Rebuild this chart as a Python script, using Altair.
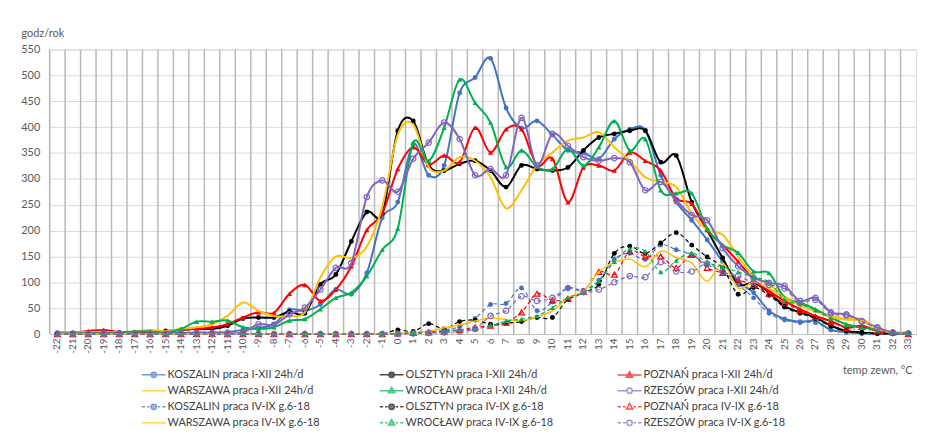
import altair as alt
import pandas as pd

temps = list(range(-22, 34))

series_names = [
    "KOSZALIN praca I-XII 24h/d", "OLSZTYN praca I-XII 24h/d", "POZNAŃ praca I-XII 24h/d",
    "WARSZAWA praca I-XII 24h/d", "WROCŁAW praca I-XII 24h/d", "RZESZÓW praca I-XII 24h/d",
    "KOSZALIN praca IV-IX g.6-18", "OLSZTYN praca IV-IX g.6-18", "POZNAŃ praca IV-IX g.6-18",
    "WARSZAWA praca IV-IX g.6-18", "WROCŁAW praca IV-IX g.6-18", "RZESZÓW praca IV-IX g.6-18",
]

koszalin_24 = [1, 1, 1, 1, 1, 1, 2, 2, 2, 3, 3, 4, 8, 12, 19, 47, 45, 57, 86, 77, 118, 225,
               255, 367, 307, 326, 466, 496, 533, 437, 398, 412, 385, 355, 351, 339, 377, 396, 394, 307,
               255, 220, 182, 140, 102, 80, 45, 29, 24, 25, 8, 4, 1, 1, 1, 1]
olsztyn_24 = [1, 1, 1, 1, 3, 3, 4, 6, 8, 10, 10, 16, 30, 32, 32, 43, 40, 96, 115, 179, 236, 233,
              393, 412, 326, 316, 329, 335, 316, 284, 326, 319, 316, 322, 355, 380, 387, 393, 393, 332,
              345, 255, 201, 147, 96, 99, 80, 54, 42, 32, 16, 6, 3, 1, 1, 1]
poznan_24 = [3, 3, 6, 8, 4, 4, 5, 6, 8, 10, 13, 19, 32, 42, 41, 78, 95, 64, 86, 131, 201, 233,
             319, 361, 328, 345, 332, 399, 351, 396, 396, 326, 339, 255, 322, 326, 316, 351, 335, 316,
             262, 252, 201, 172, 140, 105, 83, 64, 48, 35, 25, 13, 16, 6, 3, 0]
warszawa_24 = [3, 3, 4, 4, 4, 5, 8, 6, 10, 13, 19, 35, 61, 45, 35, 35, 42, 109, 150, 147, 169, 246,
               385, 405, 323, 316, 342, 335, 303, 243, 278, 326, 351, 374, 380, 390, 361, 335, 303, 294,
               284, 233, 201, 192, 150, 112, 96, 73, 57, 45, 35, 29, 29, 10, 3, 1]
wroclaw_24 = [1, 1, 2, 2, 3, 5, 5, 3, 10, 24, 24, 26, 13, 10, 13, 26, 29, 48, 70, 80, 112, 163,
              204, 370, 335, 399, 492, 447, 409, 323, 355, 323, 319, 358, 326, 361, 412, 355, 377, 278,
              272, 272, 204, 172, 157, 121, 118, 70, 61, 48, 32, 19, 13, 8, 3, 3]
rzeszow_24 = [1, 1, 1, 1, 1, 1, 1, 1, 1, 2, 2, 2, 3, 19, 18, 38, 51, 86, 128, 137, 265, 297,
              275, 339, 370, 409, 377, 307, 319, 307, 418, 326, 387, 364, 342, 335, 340, 332, 278, 294,
              259, 230, 220, 166, 131, 109, 99, 93, 64, 70, 42, 38, 25, 13, 3, 1]

koszalin_69 = [0, 0, 0, 0, 0, 0, 0, 0, 0, 0, 0, 0, 0, 0, 0, 0, 0, 0, 0, 0, 0, 0,
               1, 2, 4, 8, 14, 30, 57, 59, 89, 45, 62, 89, 85, 104, 145, 156, 144, 172,
               163, 153, 134, 120, 95, 70, 40, 27, 22, 22, 8, 3, 1, 1, 0, 0]
olsztyn_69 = [0, 0, 0, 0, 0, 0, 0, 0, 0, 0, 0, 0, 0, 0, 0, 0, 0, 0, 0, 0, 0, 0,
              8, 5, 20, 10, 24, 27, 19, 21, 24, 32, 32, 67, 81, 96, 156, 170, 156, 176,
              196, 172, 149, 128, 77, 90, 75, 52, 40, 30, 15, 6, 3, 1, 1, 1]
poznan_69 = [0, 0, 0, 0, 0, 0, 0, 0, 0, 0, 0, 0, 0, 0, 0, 0, 0, 0, 0, 0, 0, 0,
             1, 2, 3, 5, 8, 13, 16, 22, 42, 78, 65, 68, 82, 120, 115, 160, 150, 150,
             128, 153, 128, 118, 105, 95, 78, 60, 46, 33, 24, 12, 14, 5, 3, 0]
warszawa_69 = [0, 0, 0, 0, 0, 0, 0, 0, 0, 0, 0, 0, 0, 0, 0, 0, 0, 0, 0, 0, 0, 0,
               1, 3, 5, 12, 18, 25, 31, 28, 26, 33, 45, 70, 83, 120, 138, 145, 130, 160,
               148, 137, 102, 137, 89, 100, 88, 70, 55, 43, 33, 27, 26, 9, 3, 1]
wroclaw_69 = [0, 0, 0, 0, 0, 0, 0, 0, 0, 0, 0, 0, 0, 0, 0, 0, 0, 0, 0, 0, 0, 0,
              1, 2, 4, 6, 8, 10, 16, 25, 29, 35, 51, 70, 80, 102, 140, 165, 160, 120,
              142, 157, 138, 130, 120, 110, 100, 66, 58, 46, 30, 18, 12, 7, 3, 2]
rzeszow_69 = [0, 0, 0, 0, 0, 0, 0, 0, 0, 0, 0, 0, 0, 0, 0, 0, 0, 0, 0, 0, 0, 0,
              0, 1, 2, 3, 5, 10, 35, 45, 73, 64, 70, 89, 81, 86, 100, 112, 110, 139,
              121, 121, 136, 120, 112, 100, 95, 88, 60, 66, 40, 36, 24, 12, 3, 1]

all_values = [koszalin_24, olsztyn_24, poznan_24, warszawa_24, wroclaw_24, rzeszow_24,
              koszalin_69, olsztyn_69, poznan_69, warszawa_69, wroclaw_69, rzeszow_69]

rows = []
for name, vals in zip(series_names, all_values):
    for t, v in zip(temps, vals):
        rows.append({"t": t, "series": name, "v": v})
df = pd.DataFrame(rows)

# ---- styles ----
base_colors = ["#4472C4", "#000000", "#FF0000", "#FFC000", "#00B050", "#8064C0"]
colors = base_colors + base_colors
line_widths = [2, 2, 2, 2, 2, 2, 1.2, 1.2, 1.2, 1.5, 1.2, 1.2]
is_dashed = [False] * 6 + [True, True, True, False, True, True]
markers = ["circle", "circle", "triangle-up", None, "triangle-up", "circle",
           "circle", "circle", "triangle-up", None, "triangle-up", "circle"]
marker_filled = [True, True, True, False, True, False, True, True, False, False, True, False]
FONT = "Lato"
GREY = "#595959"

# legend symbol paths (unit = 8 px with symbolSize 256)
circ = "M-0.33,0A0.33,0.33 0 1,0 0.33,0A0.33,0.33 0 1,0 -0.33,0Z"
tri = "M0,-0.42L0.39,0.27L-0.39,0.27Z"
line_full = "M-1.5,0H1.5"
line_gap = "M-1.5,0H-0.36M0.36,0H1.5"
dash_line = "M-1.5,0H-1.08M-0.82,0H-0.51M0.51,0H0.82M1.08,0H1.5"
legend_paths = [
    line_full + circ, line_full + circ, line_full + tri,
    line_full, line_full + tri, line_gap + circ,
    dash_line + circ, dash_line + circ, dash_line + tri,
    line_full, dash_line + tri, dash_line + circ,
]
legend_fills = [c if f else "transparent" for c, f in zip(colors, marker_filled)]

# the legend fills its grid column by column (4 rows x 3 columns): reorder so rows read
# like the reference (row-major in the original series order)
n_rows, n_cols = 4, 3
legend_order = [r * n_cols + c for c in range(n_cols) for r in range(n_rows)]
leg_domain = [series_names[i] for i in legend_order]
leg_colors = [colors[i] for i in legend_order]
leg_fills = [legend_fills[i] for i in legend_order]
leg_paths = [legend_paths[i] for i in legend_order]

x_scale = alt.Scale(type="band", domain=temps, paddingInner=0, paddingOuter=0)
x_axis = alt.Axis(
    labelAngle=-90, labelFont=FONT, labelFontSize=10, labelColor=GREY, labelPadding=4,
    ticks=False, domainColor="#bfbfbf", domainWidth=1, grid=False,
    title="temp zewn, °C", titleX=870, titleY=37, titleAlign="right", titleBaseline="middle",
    titleFont=FONT, titleFontSize=11, titleFontWeight="normal", titleColor=GREY,
)
y_axis = alt.Axis(
    values=list(range(0, 551, 50)), title="godz/rok", titleAngle=0, titleX=-29, titleY=-16,
    titleAlign="left", titleBaseline="middle", titleFont=FONT, titleFontSize=11,
    titleFontWeight="normal", titleColor=GREY, labelFont=FONT, labelFontSize=11,
    labelColor=GREY, labelPadding=10, ticks=False, tickSize=0, domain=False, grid=True,
    gridColor="#d9d9d9", gridWidth=1,
)
x_enc = alt.X("t:O", scale=x_scale, axis=x_axis)
y_enc = alt.Y("v:Q", scale=alt.Scale(domain=[0, 550], nice=False, zero=True), axis=y_axis)

base = alt.Chart(df)

layers = []
vgrid = alt.Chart(pd.DataFrame({"t": temps})).mark_rule(color="#b8b8b8", strokeWidth=1.5).encode(
    x=alt.X("t:O", scale=x_scale, axis=x_axis, bandPosition=0)
)
layers.append(vgrid)

for i, name in enumerate(series_names):
    sub = base.transform_filter(alt.FieldEqualPredicate(field="series", equal=name))
    line_kw = dict(interpolate="cardinal", strokeWidth=line_widths[i], color=colors[i])
    if is_dashed[i]:
        line_kw["strokeDash"] = [4, 3]
    layers.append(sub.mark_line(**line_kw).encode(x=x_enc, y=y_enc))
    if markers[i] is not None:
        if marker_filled[i]:
            pt = sub.mark_point(shape=markers[i], filled=True, size=24 if markers[i] == "circle" else 28,
                                color=colors[i], opacity=1)
        else:
            pt = sub.mark_point(shape=markers[i], filled=False, size=30 if markers[i] == "circle" else 34,
                                strokeWidth=1.2, color=colors[i], opacity=1)
        layers.append(pt.encode(x=x_enc, y=y_enc))

leg_props = dict(
    title=None, orient="none", legendX=96, legendY=319, columns=3, columnPadding=57,
    rowPadding=1.2, gridAlign="all", symbolSize=256, symbolStrokeWidth=1.5,
    labelFont=FONT, labelFontSize=11, labelColor="#404040", labelOffset=5, labelLimit=300,
)
# legend-only layer: no rows pass the filter, the legend comes from the explicit scale domains
legend_layer = base.transform_filter(alt.FieldGTPredicate(field="v", gt=100000)).mark_point(
    filled=True).encode(
    x=x_enc, y=y_enc,
    stroke=alt.Stroke("series:N", scale=alt.Scale(domain=leg_domain, range=leg_colors),
                      legend=alt.Legend(**leg_props)),
    fill=alt.Fill("series:N", scale=alt.Scale(domain=leg_domain, range=leg_fills),
                  legend=alt.Legend(**leg_props)),
    shape=alt.Shape("series:N", scale=alt.Scale(domain=leg_domain, range=leg_paths),
                    legend=alt.Legend(**leg_props)),
)
layers.append(legend_layer)

chart = alt.layer(*layers).properties(
    width=874, height=287,
    autosize=alt.AutoSizeParams(type="none"),
    padding={"left": 42, "top": 40, "right": 5, "bottom": 104},
).configure_view(stroke="#b8b8b8", strokeWidth=1.5).configure(background="white")

chart.save("out.html", embed_options={"renderer": "svg", "actions": False})
